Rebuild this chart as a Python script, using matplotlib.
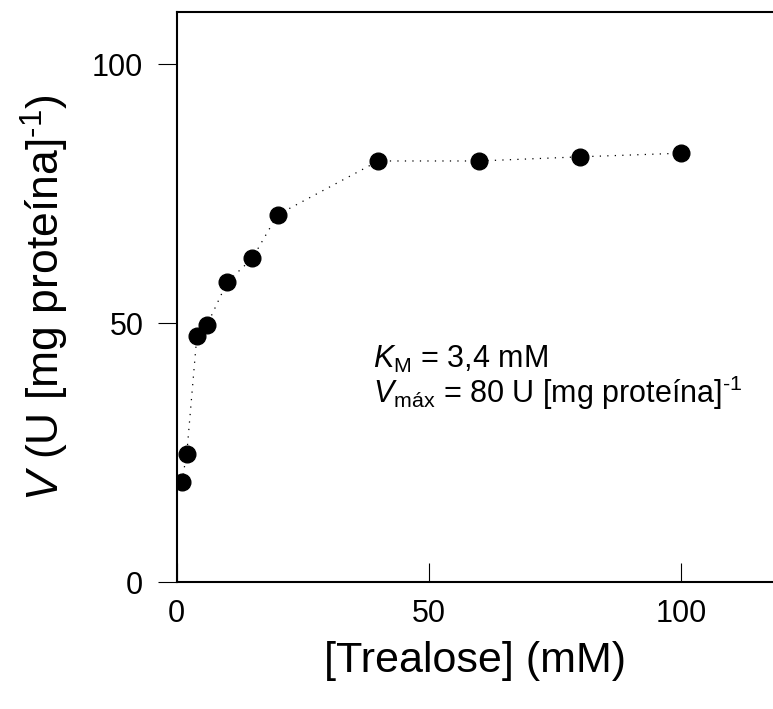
import matplotlib
matplotlib.use("Agg")
import matplotlib.pyplot as plt

plt.rcParams['font.family'] = ['Liberation Sans', 'DejaVu Sans']
plt.rcParams['mathtext.fontset'] = 'custom'
plt.rcParams['mathtext.rm'] = 'Liberation Sans'
plt.rcParams['mathtext.it'] = 'Liberation Sans:italic'

# Trehalose concentration (mM) and activity
trealose = [1, 2, 4, 6, 10, 15, 20, 40, 60, 80, 100]
velocidade = [19.3, 24.8, 47.5, 49.6, 57.9, 62.5, 70.9, 81.3, 81.3, 82.1, 82.8]
xticks = [0, 50, 100]
yticks = [0, 50, 100]

fig = plt.figure(figsize=(7.73, 7.09), dpi=100)
ax = fig.add_axes([0.2286, 0.1791, 0.7714, 0.8035])

ax.plot(trealose, velocidade, color='black', lw=0.9, linestyle=(0, (1, 5)),
        marker='o', markersize=12, markerfacecolor='black', markeredgecolor='black')

ax.set_xlim(0, 118.3)
ax.set_ylim(0, 110)
ax.set_xticks(xticks)
ax.set_yticks(yticks)

ax.spines['right'].set_visible(False)
for s in ['left', 'bottom', 'top']:
    ax.spines[s].set_linewidth(1.5)

ax.tick_params(axis='y', direction='out', length=14, width=0.8, pad=10, labelsize=22)
ax.tick_params(axis='x', direction='in', length=14, width=0.8, pad=12, labelsize=22)

ax.set_xlabel('[Trealose] (mM)', fontsize=31, labelpad=9)
ax.set_ylabel(r'$\mathit{V}$ (U [mg proteína]$^{\text{-1}}$)', fontsize=32, labelpad=15)

ax.text(39, 41.4, r'$\mathit{K}_{\mathregular{M}}$ = 3,4 mM', fontsize=22)
ax.text(39, 34.6, r'$\mathit{V}_{\mathregular{máx}}$ = 80 U [mg proteína]$^{\text{-1}}$', fontsize=22)

fig.savefig('out.png', dpi=100)
